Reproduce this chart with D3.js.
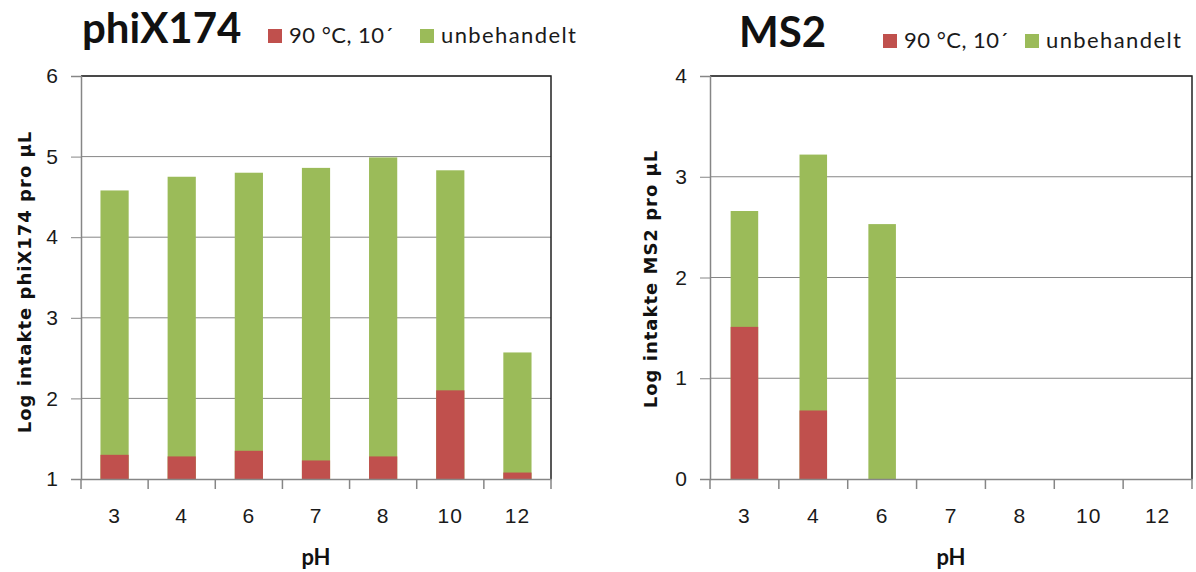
<!DOCTYPE html>
<html>
<head>
<meta charset="utf-8">
<style>
  body { margin: 0; background: #fff; }
  svg { font-family: Lato, "Open Sans", sans-serif; }
</style>
</head>
<body>
<svg width="1196" height="572"></svg>
<script src="https://d3js.org/d3.v7.min.js"></script>
<script>
  // categories and values
  var phValues = ["3", "4", "6", "7", "8", "10", "12"];

  var phixHeat = [1.30, 1.28, 1.35, 1.23, 1.28, 2.10, 1.08];
  var phixUntreated = [4.58, 4.75, 4.80, 4.86, 4.99, 4.83, 2.57];

  var ms2Heat = [1.51, 0.68, 0, 0, 0, 0, 0];
  var ms2Untreated = [2.66, 3.22, 2.53, 0, 0, 0, 0];

  var seriesNames = ["90 °C, 10´", "unbehandelt"];
  var colors = ["#C0504D", "#9BBB59"];

  var svg = d3.select("svg");

  function drawPanel(opt) {
    var g = svg.append("g").attr("transform", "translate(" + opt.left + "," + opt.top + ")");
    var width = opt.width, height = opt.height;

    var x = d3.scaleBand().domain(phValues).range([0, width]).padding(0);
    var y = d3.scaleLinear().domain(opt.yDomain).range([height, 0]);

    // gridlines
    g.append("g")
      .selectAll("line")
      .data(y.ticks(opt.yDomain[1] - opt.yDomain[0]).slice(1))
      .enter().append("line")
        .attr("x1", 0).attr("x2", width)
        .attr("y1", function(d) { return y(d); })
        .attr("y2", function(d) { return y(d); })
        .attr("stroke", "#868686")
        .attr("stroke-width", 1);

    // bars: untreated behind, heated in front
    var bw = x.bandwidth() * opt.barFrac;
    var base = opt.yDomain[0];
    [opt.untreated, opt.heat].forEach(function(vals, i) {
      g.append("g")
        .selectAll("rect")
        .data(vals.map(function(v, j) { return {ph: phValues[j], v: v}; }).filter(function(d) { return d.v > base; }))
        .enter().append("rect")
          .attr("x", function(d) { return x(d.ph) + (x.bandwidth() - bw) / 2; })
          .attr("width", bw)
          .attr("y", function(d) { return y(d.v); })
          .attr("height", function(d) { return y(base) - y(d.v); })
          .attr("fill", colors[1 - i]);
    });

    // top and right border
    g.append("path")
      .attr("d", "M0," + y(opt.yDomain[1]) + "H" + width + "V" + y(base))
      .attr("fill", "none")
      .attr("stroke", "#222")
      .attr("stroke-width", 1.5);

    // y axis
    var yAxis = g.append("g")
      .call(d3.axisLeft(y).ticks(opt.yDomain[1] - opt.yDomain[0]).tickSize(10).tickPadding(13).tickFormat(d3.format("d")));
    yAxis.select(".domain").attr("stroke", "#868686").attr("stroke-width", 1.5);
    yAxis.selectAll(".tick line").attr("stroke", "#868686");
    yAxis.selectAll("text").attr("font-size", 21).attr("fill", "#1a1a1a");

    // x axis
    var xAxis = g.append("g")
      .attr("transform", "translate(0," + height + ")")
      .call(d3.axisBottom(x).tickSize(0).tickPadding(29));
    xAxis.select(".domain").attr("stroke", "#868686").attr("stroke-width", 1.5);
    xAxis.selectAll("text").attr("font-size", 21).attr("letter-spacing", 1).attr("fill", "#1a1a1a");

    var bounds = phValues.map(function(p) { return x(p); }).concat([width]);
    g.append("g")
      .selectAll("line")
      .data(bounds)
      .enter().append("line")
        .attr("x1", function(d) { return d; }).attr("x2", function(d) { return d; })
        .attr("y1", height).attr("y2", height + 10)
        .attr("stroke", "#868686")
        .attr("stroke-width", 1.5);

    // axis titles
    g.append("text")
      .attr("x", width / 2)
      .attr("y", height + 86)
      .attr("text-anchor", "middle")
      .attr("font-size", 22)
      .attr("font-weight", "bold")
      .attr("fill", "#111")
      .text("pH");

    g.append("text")
      .attr("transform", "translate(" + opt.yTitleX + "," + opt.yTitleY + ") rotate(-90)")
      .attr("text-anchor", "middle")
      .attr("font-family", "'DejaVu Sans', sans-serif")
      .attr("font-size", 18)
      .attr("letter-spacing", 1)
      .attr("font-weight", "bold")
      .attr("fill", "#111")
      .text(opt.yTitle);

    // chart title
    svg.append("text")
      .attr("x", opt.titleX)
      .attr("y", opt.titleY)
      .attr("font-size", 42)
      .attr("font-weight", "bold")
      .attr("fill", "#111")
      .text(opt.title);

    // legend
    var lg = svg.append("g").attr("transform", "translate(" + opt.legendX + "," + opt.legendY + ")");
    seriesNames.forEach(function(name, i) {
      var off = i === 0 ? 0 : opt.legendGap;
      lg.append("rect")
        .attr("x", off).attr("y", -14)
        .attr("width", 14).attr("height", 14)
        .attr("fill", colors[i]);
      lg.append("text")
        .attr("x", off + 21).attr("y", 0)
        .attr("font-size", 22)
        .attr("letter-spacing", i === 0 ? 0.5 : 1.4)
        .attr("fill", "#1a1a1a")
        .text(name);
    });
  }

  drawPanel({
    left: 81, top: 76, width: 470, height: 403,
    yDomain: [1, 6], barFrac: 0.42,
    heat: phixHeat, untreated: phixUntreated,
    title: "phiX174", titleX: 82, titleY: 43,
    legendX: 268, legendY: 43, legendGap: 152,
    yTitle: "Log intakte phiX174 pro µL", yTitleX: -50, yTitleY: 206
  });

  drawPanel({
    left: 710, top: 76, width: 482, height: 403,
    yDomain: [0, 4], barFrac: 0.4,
    heat: ms2Heat, untreated: ms2Untreated,
    title: "MS2", titleX: 739, titleY: 47,
    legendX: 883, legendY: 48, legendGap: 142,
    yTitle: "Log intakte MS2 pro µL", yTitleX: -53, yTitleY: 203
  });
</script>
</body>
</html>
